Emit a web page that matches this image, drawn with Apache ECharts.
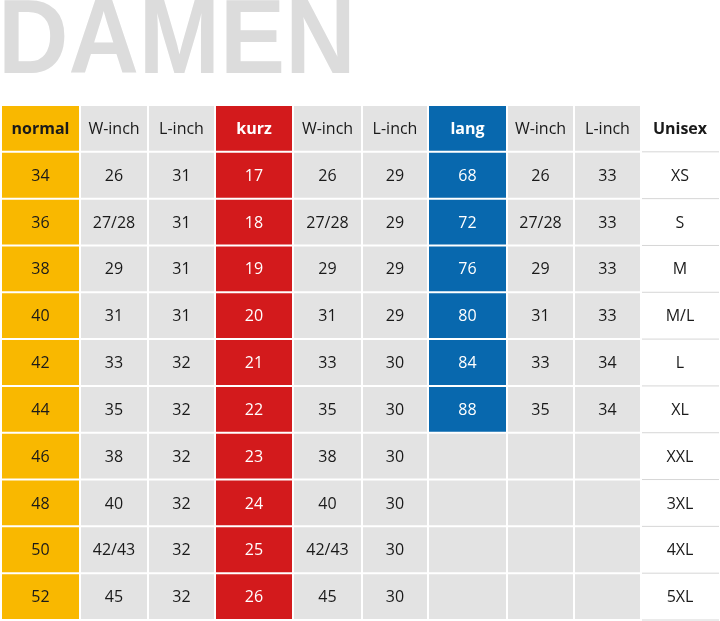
<!DOCTYPE html>
<html>
<head>
<meta charset="utf-8">
<script src="https://cdn.jsdelivr.net/npm/echarts@6/dist/echarts.min.js"></script>
<style>html,body{margin:0;padding:0;background:#fff}#chart{width:720px;height:621px}</style>
</head>
<body>
<div id="chart"></div>
<script>
const headers = ['normal', 'W-inch', 'L-inch', 'kurz', 'W-inch', 'L-inch', 'lang', 'W-inch', 'L-inch', 'Unisex'];
const normal = ['34', '36', '38', '40', '42', '44', '46', '48', '50', '52'];
const wInch = ['26', '27/28', '29', '31', '33', '35', '38', '40', '42/43', '45'];
const lInchNormal = ['31', '31', '31', '31', '32', '32', '32', '32', '32', '32'];
const kurz = ['17', '18', '19', '20', '21', '22', '23', '24', '25', '26'];
const lInchKurz = ['29', '29', '29', '29', '30', '30', '30', '30', '30', '30'];
const lang = ['68', '72', '76', '80', '84', '88', '', '', '', ''];
const wInchLang = ['26', '27/28', '29', '31', '33', '35', '', '', '', ''];
const lInchLang = ['33', '33', '33', '33', '34', '34', '', '', '', ''];
const unisex = ['XS', 'S', 'M', 'M/L', 'L', 'XL', 'XXL', '3XL', '4XL', '5XL'];

const columns = [normal, wInch, lInchNormal, kurz, wInch, lInchKurz, lang, wInchLang, lInchLang, unisex];
// relative column widths and fills
const colWeights = [79, 68, 67, 78, 69, 66, 79, 67, 67, 78];
const colFill = ['#F9B800', '#E3E3E3', '#E3E3E3', '#D31A1C', '#E3E3E3', '#E3E3E3', '#0868AE', '#E3E3E3', '#E3E3E3', null];
const colText = ['#1a1a1a', '#1a1a1a', '#1a1a1a', '#fff', '#1a1a1a', '#1a1a1a', '#fff', '#1a1a1a', '#1a1a1a', '#1a1a1a'];

const rowNames = ['h'].concat(normal);
const cells = [];
columns.forEach((col, c) => {
  cells.push([c, 0, headers[c]]);
  col.forEach((v, r) => cells.push([c, r + 1, v]));
});
const totalW = colWeights.reduce((a, b) => a + b, 0);

const chart = echarts.init(document.getElementById('chart'));
chart.setOption({
  animation: false,
  graphic: [{
    type: 'text', left: -2, top: -9, scaleX: 0.92,
    style: { text: 'DAMEN', fontSize: 106, fontWeight: 'bold', fontFamily: 'Liberation Sans', fill: '#DCDCDC' }
  }],
  grid: { left: 1, right: 1, top: 105, bottom: 1 },
  xAxis: { type: 'category', data: headers, show: false },
  yAxis: { type: 'category', data: rowNames, inverse: true, show: false },
  series: [{
    type: 'custom',
    data: cells,
    renderItem: (params, api) => {
      const cs = params.coordSys;
      const c = api.value(0), r = api.value(1);
      let cum = 0;
      for (let i = 0; i < c; i++) cum += colWeights[i];
      const x = cs.x + cs.width * cum / totalW;
      const w = cs.width * colWeights[c] / totalW;
      const bandH = api.size([0, 1])[1];
      const y = api.coord([0, r])[1] - bandH / 2;
      const text = cells[params.dataIndex][2];
      const children = [];
      if (colFill[c]) {
        const fill = text === '' ? '#E3E3E3' : colFill[c];
        children.push({ type: 'rect', shape: { x: x + 1, y: y + 1, width: w - 2, height: bandH - 2 }, style: { fill: fill } });
      } else {
        children.push({ type: 'line', shape: { x1: x + 1, y1: y + bandH, x2: x + w, y2: y + bandH }, style: { stroke: '#D6D6D6', lineWidth: 1 } });
      }
      children.push({
        type: 'text',
        style: {
          x: x + w / 2, y: y + bandH / 2 + 1, text: text, align: 'center', verticalAlign: 'middle',
          fontSize: 16, fontFamily: 'Open Sans', fontWeight: r === 0 && (colFill[c] !== '#E3E3E3') ? 'bold' : 'normal',
          fill: colText[c]
        }
      });
      return { type: 'group', children: children };
    }
  }]
});
</script>
</body>
</html>
